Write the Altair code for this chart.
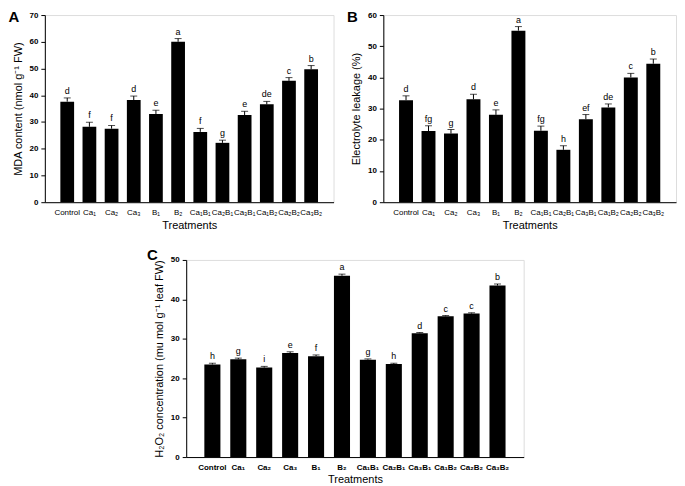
import altair as alt
import pandas as pd

cats = ["Control", "Ca₁", "Ca₂", "Ca₃", "B₁", "B₂", "Ca₁B₁", "Ca₂B₁", "Ca₃B₁", "Ca₁B₂", "Ca₂B₂", "Ca₃B₂"]

mda = [37.6, 28.2, 27.5, 38.2, 33.0, 60.0, 26.3, 22.2, 32.6, 36.6, 45.4, 49.7]
mda_err = [1.4, 1.7, 1.2, 1.5, 1.4, 1.2, 1.3, 1.0, 1.4, 1.1, 1.2, 1.4]
mda_letters = ["d", "f", "f", "d", "e", "a", "f", "g", "e", "de", "c", "b"]

el = [32.7, 22.8, 22.0, 33.0, 28.0, 55.0, 22.9, 16.8, 26.6, 30.4, 40.0, 44.4]
el_err = [1.4, 1.7, 1.3, 1.6, 1.6, 1.3, 1.5, 1.3, 1.5, 1.1, 1.3, 1.5]
el_letters = ["d", "fg", "g", "d", "e", "a", "fg", "h", "ef", "de", "c", "b"]

h2o2 = [23.5, 24.8, 22.7, 26.4, 25.6, 46.0, 24.7, 23.6, 31.4, 35.7, 36.4, 43.5]
h2o2_err = [0.3, 0.3, 0.3, 0.3, 0.3, 0.4, 0.2, 0.2, 0.2, 0.2, 0.2, 0.4]
h2o2_letters = ["h", "g", "i", "e", "f", "a", "g", "h", "d", "c", "c", "b"]

FONT = "Liberation Sans"


def panel(vals, errs, letters, ymax, ytitle, letter, w, h, letter_x, letter_y,
          xlabel_size, xlabel_weight):
    df = pd.DataFrame({
        "cat": cats,
        "v": vals,
        "top": [v + e for v, e in zip(vals, errs)],
        "lab": letters,
    })
    xaxis = alt.Axis(title="Treatments", labelAngle=0, ticks=False,
                     labelFontSize=xlabel_size, labelFontWeight=xlabel_weight, labelPadding=6,
                     titleFontSize=11, titleFontWeight="normal", titlePadding=3,
                     domainColor="black", labelColor="black", titleColor="black",
                     labelFont=FONT, titleFont=FONT)
    xscale = alt.Scale(paddingInner=0.38, paddingOuter=0.7)
    yaxis = alt.Axis(title=ytitle, values=list(range(0, ymax + 1, 10)), grid=False,
                     labelOverlap=False, tickSize=4, labelFontSize=8,
                     labelFontWeight="bold", labelPadding=3,
                     titleFontSize=11, titleFontWeight="normal", titlePadding=6,
                     domainColor="black", tickColor="black", labelColor="black",
                     titleColor="black", labelFont=FONT, titleFont=FONT)
    yscale = alt.Scale(domain=[0, ymax], nice=False)

    def X():
        return alt.X("cat:N", sort=cats, scale=xscale, axis=xaxis)

    def Y(field):
        return alt.Y(field, scale=yscale, axis=yaxis)

    base = alt.Chart(df)
    bars = base.mark_bar(color="black").encode(x=X(), y=Y("v:Q"))
    err = base.mark_rule(color="black", strokeWidth=1).encode(
        x=X(), y=Y("v:Q"), y2="top:Q")
    cap = base.mark_tick(color="black", size=7, thickness=1).encode(
        x=X(), y=Y("top:Q"))
    txt = base.mark_text(baseline="bottom", dy=-2, fontSize=9, font=FONT, color="black").encode(
        x=X(), y=Y("top:Q"), text="lab:N")
    lab = alt.Chart(pd.DataFrame({"t": [letter]})).mark_text(
        fontSize=15, fontWeight="bold", font=FONT, color="black", align="center", baseline="middle"
    ).encode(x=alt.value(letter_x), y=alt.value(letter_y), text="t:N")
    return alt.layer(bars, err, cap, txt, lab).properties(width=w, height=h)


A = panel(mda, mda_err, mda_letters, 70, "MDA content (nmol g⁻¹ FW)", "A", 290, 188, -31, 2, 8, "normal")
B = panel(el, el_err, el_letters, 60, "Electrolyte leakage (%)", "B", 294, 188, -31, 2, 8, "normal")
C = panel(h2o2, h2o2_err, h2o2_letters, 50, "H₂O₂ concentration (mu mol g⁻¹ leaf FW)", "C", 339, 198,
          -34, -5, 8, "bold")

spacer = alt.Chart(pd.DataFrame({"a": [0]})).mark_text(text=" ", opacity=0).encode(
    x=alt.value(0), y=alt.value(0)
).properties(width=102, height=1,
             view=alt.ViewBackground(stroke="white", strokeOpacity=0, strokeWidth=0))

top = alt.hconcat(A, B, spacing=12)
bottom = alt.hconcat(spacer, C, spacing=0)

chart = alt.vconcat(top, bottom, spacing=16).properties(
    padding={"left": 0, "top": 0, "right": 0, "bottom": 0}
).configure_view(stroke=None, strokeWidth=0).configure(background="white")

chart.save("out.html", embed_options={"renderer": "svg", "actions": False})
